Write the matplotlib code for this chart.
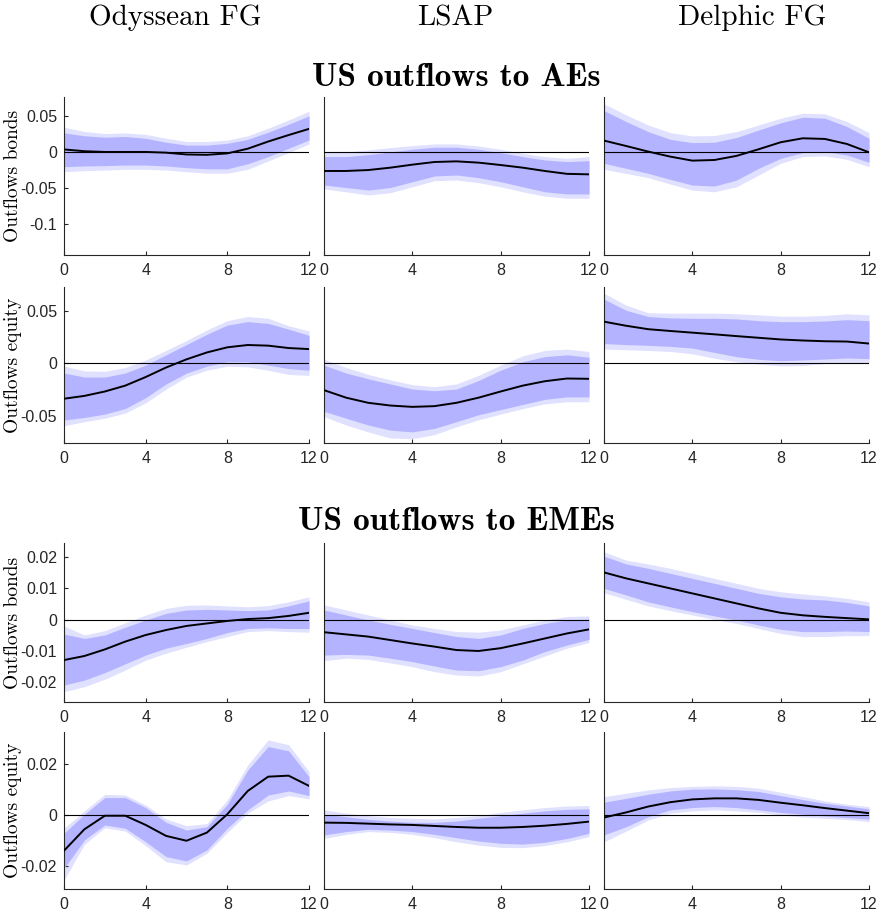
import matplotlib
matplotlib.use('Agg')
import matplotlib.pyplot as plt

horizon = list(range(13))
col_titles = ['Odyssean FG', 'LSAP', 'Delphic FG']
row_labels = ['Outflows bonds', 'Outflows equity', 'Outflows bonds', 'Outflows equity']

# ---- US outflows to AEs, bonds ----
ae_bond_ody_med = [0.004, 0.0015, 0.0005, 0.0005, 0.0005, -0.0005, -0.003, -0.0035, -0.0015, 0.005, 0.015, 0.024, 0.0326]
ae_bond_ody_ohi = [0.035, 0.029, 0.026, 0.027, 0.025, 0.0195, 0.015, 0.015, 0.017, 0.023, 0.0335, 0.045, 0.057]
ae_bond_ody_ihi = [0.027, 0.023, 0.021, 0.022, 0.0195, 0.014, 0.010, 0.010, 0.0125, 0.018, 0.028, 0.039, 0.0507]
ae_bond_ody_ilo = [-0.020, -0.019, -0.0186, -0.0177, -0.0177, -0.019, -0.0214, -0.023, -0.023, -0.016, -0.006, 0.0056, 0.0172]
ae_bond_ody_olo = [-0.027, -0.0256, -0.0247, -0.0237, -0.0237, -0.0247, -0.027, -0.029, -0.029, -0.0237, -0.012, -0.0005, 0.0116]

ae_bond_lsap_med = [-0.026, -0.026, -0.0247, -0.0214, -0.0172, -0.0135, -0.0126, -0.0144, -0.0177, -0.0214, -0.026, -0.030, -0.0307]
ae_bond_lsap_ohi = [0.0, 0.0005, 0.0033, 0.0065, 0.0093, 0.0116, 0.0116, 0.0088, 0.0042, -0.0014, -0.006, -0.0084, -0.006]
ae_bond_lsap_ihi = [-0.006, -0.006, -0.0033, 0.0005, 0.0042, 0.007, 0.007, 0.0042, -0.0005, -0.006, -0.0107, -0.013, -0.0116]
ae_bond_lsap_ilo = [-0.0456, -0.049, -0.0526, -0.049, -0.041, -0.033, -0.0316, -0.0353, -0.041, -0.048, -0.055, -0.058, -0.058]
ae_bond_lsap_olo = [-0.051, -0.055, -0.0595, -0.0563, -0.048, -0.0395, -0.0386, -0.0423, -0.048, -0.055, -0.061, -0.064, -0.064]

ae_bond_del_med = [0.0163, 0.0088, 0.001, -0.006, -0.0116, -0.0107, -0.005, 0.0042, 0.014, 0.0195, 0.0186, 0.0116, 0.0]
ae_bond_del_ohi = [0.0674, 0.052, 0.038, 0.0274, 0.0228, 0.0233, 0.0288, 0.038, 0.0474, 0.0544, 0.0535, 0.0428, 0.0274]
ae_bond_del_ihi = [0.058, 0.0428, 0.0288, 0.018, 0.0135, 0.014, 0.0205, 0.031, 0.041, 0.0488, 0.0474, 0.0358, 0.0195]
ae_bond_del_ilo = [-0.0153, -0.0223, -0.0293, -0.0377, -0.0456, -0.047, -0.0386, -0.0223, -0.0084, -0.0005, 0.001, -0.0037, -0.014]
ae_bond_del_olo = [-0.0237, -0.0293, -0.0353, -0.0442, -0.0526, -0.055, -0.048, -0.0316, -0.0153, -0.006, -0.005, -0.0098, -0.020]

# ---- US outflows to AEs, equity ----
ae_eq_ody_med = [-0.0337, -0.031, -0.0268, -0.0212, -0.013, -0.0039, 0.0039, 0.0105, 0.0154, 0.0176, 0.017, 0.0147, 0.0137]
ae_eq_ody_ohi = [-0.0026, -0.0072, -0.0075, -0.0039, 0.0033, 0.0124, 0.0219, 0.032, 0.0408, 0.0448, 0.0431, 0.036, 0.031]
ae_eq_ody_ihi = [-0.0092, -0.013, -0.013, -0.0092, -0.0016, 0.0082, 0.018, 0.0278, 0.0366, 0.0399, 0.0382, 0.0327, 0.0268]
ae_eq_ody_ilo = [-0.054, -0.0516, -0.0484, -0.0431, -0.0327, -0.0196, -0.0092, -0.0026, 0.0016, 0.0016, -0.0016, -0.0049, -0.0065]
ae_eq_ody_olo = [-0.0595, -0.0556, -0.0523, -0.0474, -0.0376, -0.0245, -0.013, -0.0065, -0.0026, -0.0033, -0.0065, -0.0105, -0.0114]

ae_eq_lsap_med = [-0.0255, -0.0327, -0.0376, -0.0402, -0.0415, -0.0408, -0.0376, -0.0327, -0.0268, -0.0212, -0.017, -0.0144, -0.0147]
ae_eq_lsap_ohi = [0.0039, -0.0039, -0.0105, -0.0157, -0.0203, -0.0222, -0.0196, -0.0114, -0.0016, 0.0072, 0.0124, 0.0137, 0.0114]
ae_eq_lsap_ihi = [-0.0016, -0.0092, -0.0147, -0.0196, -0.0245, -0.0261, -0.0245, -0.0163, -0.0065, 0.0016, 0.0065, 0.0082, 0.0059]
ae_eq_lsap_ilo = [-0.0458, -0.0523, -0.0588, -0.0637, -0.0654, -0.0621, -0.0556, -0.049, -0.0441, -0.0392, -0.0343, -0.032, -0.032]
ae_eq_lsap_olo = [-0.0507, -0.0588, -0.0654, -0.0712, -0.0719, -0.068, -0.0605, -0.0539, -0.0484, -0.0431, -0.0386, -0.0366, -0.0366]

ae_eq_del_med = [0.0399, 0.036, 0.0327, 0.031, 0.0294, 0.0278, 0.0261, 0.0245, 0.0229, 0.0219, 0.0212, 0.0209, 0.019]
ae_eq_del_ohi = [0.067, 0.0556, 0.0484, 0.048, 0.048, 0.048, 0.0474, 0.0464, 0.0451, 0.0451, 0.0458, 0.0474, 0.0464]
ae_eq_del_ihi = [0.0614, 0.0507, 0.0448, 0.0435, 0.0431, 0.0431, 0.0425, 0.0408, 0.0399, 0.0399, 0.0405, 0.0418, 0.0408]
ae_eq_del_ilo = [0.019, 0.018, 0.0173, 0.0163, 0.0147, 0.0105, 0.0065, 0.0039, 0.0026, 0.0033, 0.0042, 0.0052, 0.0046]
ae_eq_del_olo = [0.0137, 0.0131, 0.0124, 0.0114, 0.0092, 0.0049, 0.0016, -0.0007, -0.0023, -0.002, 0.0, 0.001, 0.0]

# ---- US outflows to EMEs, bonds ----
em_bond_ody_med = [-0.0129, -0.0116, -0.0095, -0.007, -0.0049, -0.0033, -0.002, -0.0012, -0.0004, 0.0002, 0.0005, 0.0012, 0.0022]
em_bond_ody_ohi = [-0.002, -0.0049, -0.0035, -0.001, 0.0015, 0.0036, 0.0046, 0.0047, 0.0044, 0.0041, 0.0045, 0.0057, 0.0073]
em_bond_ody_ihi = [-0.0046, -0.006, -0.0049, -0.0024, -0.0001, 0.002, 0.0031, 0.0033, 0.0031, 0.0029, 0.0031, 0.0044, 0.006]
em_bond_ody_ilo = [-0.0209, -0.0193, -0.0169, -0.0141, -0.0113, -0.0091, -0.0076, -0.006, -0.0041, -0.0028, -0.0026, -0.0028, -0.0028]
em_bond_ody_olo = [-0.023, -0.0214, -0.019, -0.0161, -0.0129, -0.0107, -0.0088, -0.007, -0.0054, -0.0038, -0.0035, -0.0038, -0.004]

em_bond_lsap_med = [-0.004, -0.0047, -0.0054, -0.0065, -0.0076, -0.0086, -0.0097, -0.01, -0.0091, -0.0076, -0.006, -0.0044, -0.0031]
em_bond_lsap_ohi = [0.0047, 0.0031, 0.0015, -0.0001, -0.0017, -0.0028, -0.0038, -0.004, -0.0033, -0.0017, -0.0001, 0.001, 0.0012]
em_bond_lsap_ihi = [0.0031, 0.0015, -0.0001, -0.0015, -0.0028, -0.0041, -0.0054, -0.006, -0.0049, -0.0028, -0.0012, -0.0001, 0.0002]
em_bond_lsap_ilo = [-0.0113, -0.0111, -0.0113, -0.0123, -0.0134, -0.0148, -0.0161, -0.0163, -0.015, -0.0129, -0.0102, -0.0081, -0.0063]
em_bond_lsap_olo = [-0.0131, -0.0123, -0.0127, -0.0138, -0.015, -0.0166, -0.0177, -0.018, -0.0166, -0.0141, -0.0116, -0.0091, -0.0073]

em_bond_del_med = [0.0151, 0.0132, 0.0116, 0.01, 0.0084, 0.0068, 0.0052, 0.0036, 0.0022, 0.0014, 0.0009, 0.0005, 0.0001]
em_bond_del_ohi = [0.0217, 0.019, 0.0178, 0.0164, 0.0148, 0.0132, 0.0116, 0.01, 0.0089, 0.0082, 0.0076, 0.0068, 0.0057]
em_bond_del_ihi = [0.0203, 0.0178, 0.0164, 0.0148, 0.0132, 0.0116, 0.01, 0.0084, 0.0073, 0.0066, 0.0063, 0.0055, 0.0044]
em_bond_del_ilo = [0.01, 0.0079, 0.0057, 0.0041, 0.0026, 0.0012, -0.0001, -0.0017, -0.0031, -0.0038, -0.0038, -0.0036, -0.0038]
em_bond_del_olo = [0.0086, 0.0065, 0.0044, 0.0029, 0.0015, 0.0001, -0.0012, -0.0028, -0.0044, -0.0054, -0.0054, -0.0051, -0.0051]

# ---- US outflows to EMEs, equity ----
em_eq_ody_med = [-0.014, -0.0056, -0.0003, -0.0003, -0.0039, -0.0082, -0.0101, -0.0069, 0.0003, 0.0094, 0.015, 0.0154, 0.0114]
em_eq_ody_ohi = [-0.0052, 0.0016, 0.0081, 0.0078, 0.0039, -0.0016, -0.0042, -0.0034, 0.0059, 0.0196, 0.0294, 0.0275, 0.017]
em_eq_ody_ihi = [-0.0072, 0.0003, 0.0068, 0.0068, 0.0029, -0.0029, -0.0059, -0.0046, 0.0042, 0.0176, 0.0268, 0.0251, 0.015]
em_eq_ody_ilo = [-0.0209, -0.0098, -0.0039, -0.0052, -0.0105, -0.0163, -0.018, -0.0137, -0.0052, 0.002, 0.0078, 0.0094, 0.0076]
em_eq_ody_olo = [-0.0255, -0.0115, -0.005, -0.0063, -0.012, -0.0183, -0.0196, -0.015, -0.0068, 0.0007, 0.0055, 0.0076, 0.0063]

em_eq_lsap_med = [-0.003, -0.0031, -0.0034, -0.0037, -0.0039, -0.0043, -0.0047, -0.005, -0.005, -0.0047, -0.0042, -0.0035, -0.0026]
em_eq_lsap_ohi = [0.002, 0.0007, -0.0003, -0.001, -0.0013, -0.0016, -0.001, -0.0003, 0.001, 0.002, 0.0029, 0.0035, 0.0037]
em_eq_lsap_ihi = [0.0003, -0.0007, -0.0017, -0.0024, -0.0029, -0.0029, -0.0024, -0.0013, -0.0003, 0.0007, 0.0016, 0.0022, 0.0024]
em_eq_lsap_ilo = [-0.0078, -0.0065, -0.0056, -0.0059, -0.0065, -0.0076, -0.0089, -0.0102, -0.0111, -0.0114, -0.0107, -0.0092, -0.0072]
em_eq_lsap_olo = [-0.0092, -0.0076, -0.0065, -0.0068, -0.0076, -0.0089, -0.0105, -0.0118, -0.0127, -0.0128, -0.012, -0.0105, -0.0085]

em_eq_del_med = [-0.001, 0.001, 0.0033, 0.005, 0.0061, 0.0065, 0.0065, 0.0059, 0.0048, 0.0038, 0.0027, 0.0017, 0.0007]
em_eq_del_ohi = [0.0072, 0.0085, 0.0098, 0.0107, 0.0112, 0.0114, 0.0112, 0.0105, 0.0089, 0.0072, 0.0055, 0.0042, 0.0033]
em_eq_del_ihi = [0.005, 0.0065, 0.0081, 0.0094, 0.0101, 0.0102, 0.0099, 0.0092, 0.0076, 0.006, 0.0046, 0.0035, 0.0024]
em_eq_del_ilo = [-0.0078, -0.0046, -0.0007, 0.002, 0.0029, 0.0033, 0.0029, 0.002, 0.001, 0.0003, -0.0004, -0.001, -0.0016]
em_eq_del_olo = [-0.0105, -0.0063, -0.002, 0.0007, 0.0016, 0.002, 0.0016, 0.001, 0.0, -0.0008, -0.0013, -0.0018, -0.0026]

# y limits and ticks per row
row_ylim = [(-0.143, 0.077), (-0.076, 0.073), (-0.0263, 0.0245), (-0.029, 0.0325)]
row_yticks = [[-0.1, -0.05, 0, 0.05], [-0.05, 0, 0.05], [-0.02, -0.01, 0, 0.01, 0.02], [-0.02, 0, 0.02]]
row_yticklabels = [['-0.1', '-0.05', '0', '0.05'], ['-0.05', '0', '0.05'],
                   ['-0.02', '-0.01', '0', '0.01', '0.02'], ['-0.02', '0', '0.02']]

panels = [
  [(ae_bond_ody_med, ae_bond_ody_olo, ae_bond_ody_ohi, ae_bond_ody_ilo, ae_bond_ody_ihi),
   (ae_bond_lsap_med, ae_bond_lsap_olo, ae_bond_lsap_ohi, ae_bond_lsap_ilo, ae_bond_lsap_ihi),
   (ae_bond_del_med, ae_bond_del_olo, ae_bond_del_ohi, ae_bond_del_ilo, ae_bond_del_ihi)],
  [(ae_eq_ody_med, ae_eq_ody_olo, ae_eq_ody_ohi, ae_eq_ody_ilo, ae_eq_ody_ihi),
   (ae_eq_lsap_med, ae_eq_lsap_olo, ae_eq_lsap_ohi, ae_eq_lsap_ilo, ae_eq_lsap_ihi),
   (ae_eq_del_med, ae_eq_del_olo, ae_eq_del_ohi, ae_eq_del_ilo, ae_eq_del_ihi)],
  [(em_bond_ody_med, em_bond_ody_olo, em_bond_ody_ohi, em_bond_ody_ilo, em_bond_ody_ihi),
   (em_bond_lsap_med, em_bond_lsap_olo, em_bond_lsap_ohi, em_bond_lsap_ilo, em_bond_lsap_ihi),
   (em_bond_del_med, em_bond_del_olo, em_bond_del_ohi, em_bond_del_ilo, em_bond_del_ihi)],
  [(em_eq_ody_med, em_eq_ody_olo, em_eq_ody_ohi, em_eq_ody_ilo, em_eq_ody_ihi),
   (em_eq_lsap_med, em_eq_lsap_olo, em_eq_lsap_ohi, em_eq_lsap_ilo, em_eq_lsap_ihi),
   (em_eq_del_med, em_eq_del_olo, em_eq_del_ohi, em_eq_del_ilo, em_eq_del_ihi)],
]

W, H = 877, 918
fig = plt.figure(figsize=(W/100, H/100), dpi=100)

# axes boxes in pixels: (left, right) per column, (top, bottom) per row
col_px = [(64, 309), (324, 589), (604, 869)]
row_px = [(97, 255), (287, 443), (543, 702), (732, 889)]

outer_c = '#e0e0ff'
inner_c = '#b3b3ff'
axis_c = '#262626'

for r in range(4):
  t, b = row_px[r]
  for c in range(3):
    l, rr = col_px[c]
    ax = fig.add_axes([l/W, 1 - b/H, (rr - l)/W, (b - t)/H])
    med, olo, ohi, ilo, ihi = panels[r][c]
    ax.fill_between(horizon, olo, ohi, color=outer_c, lw=0, zorder=1)
    ax.fill_between(horizon, ilo, ihi, color=inner_c, lw=0, zorder=2)
    ax.plot([0, 12], [0, 0], color='black', lw=0.8, zorder=3)
    ax.plot(horizon, med, color='black', lw=1.4, zorder=4)
    ax.set_xlim(0, 12)
    ax.set_ylim(*row_ylim[r])
    ax.set_xticks([0, 4, 8, 12])
    ax.set_xticklabels(['0', '4', '8', '12'], fontfamily='Liberation Sans', fontsize=11.5, color=axis_c)
    for s in ['top', 'right']:
      ax.spines[s].set_visible(False)
    for s in ['left', 'bottom']:
      ax.spines[s].set_color(axis_c)
      ax.spines[s].set_linewidth(0.8)
    ax.tick_params(direction='in', length=3, width=0.8, color=axis_c)
    ax.tick_params(axis='x', pad=6)
    ax.tick_params(axis='y', pad=5)
    if c == 0:
      ax.set_yticks(row_yticks[r])
      ax.set_yticklabels(row_yticklabels[r], fontfamily='Liberation Sans', fontsize=11.5, color=axis_c)
      fig.text(13/W, 1 - (t + b)/2/H, row_labels[r], rotation=90, ha='center', va='center',
               fontfamily='cmr10', fontsize=14)
    else:
      ax.set_yticks([])

# column headers
for x, title in zip([175, 455, 752], col_titles):
  fig.text(x/W, 1 - 18/H, title, ha='center', va='center', fontfamily='cmr10', fontsize=21)

fig.text(456/W, 1 - 77/H, 'US outflows to AEs', ha='center', va='center', fontfamily='cmb10', fontsize=24)
fig.text(456/W, 1 - 522/H, 'US outflows to EMEs', ha='center', va='center', fontfamily='cmb10', fontsize=24)

plt.savefig('out.png', dpi=100)
